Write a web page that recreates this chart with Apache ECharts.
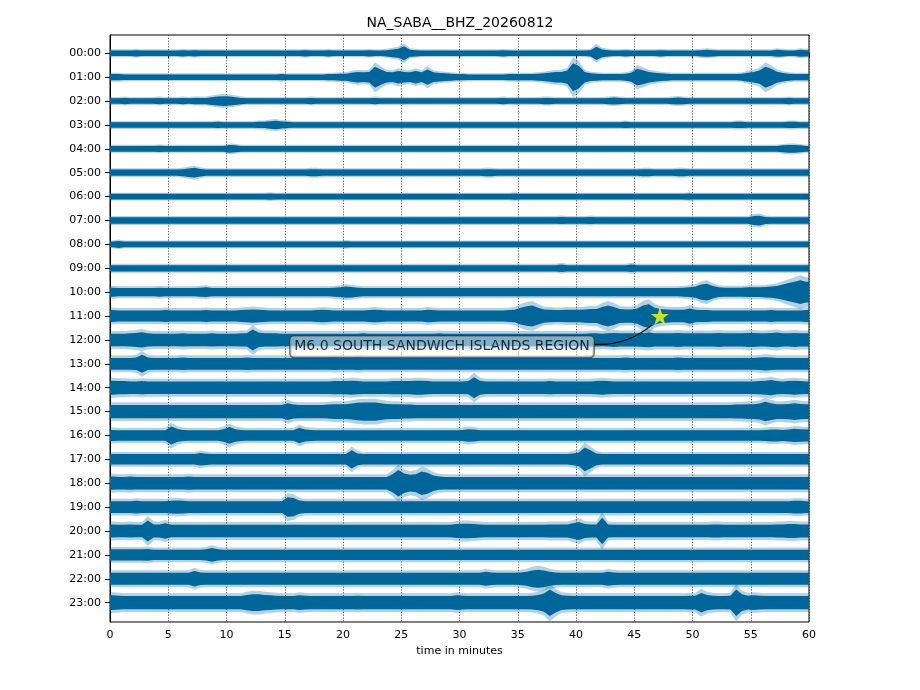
<!DOCTYPE html>
<html><head><meta charset="utf-8">
<script src="https://cdn.jsdelivr.net/npm/echarts@6/dist/echarts.min.js"></script>
<style>html,body{margin:0;padding:0;background:#fff}#c{width:920px;height:690px}</style>
</head><body><div id="c"></div>
<script>
const chartTitle = 'NA_SABA__BHZ_20260812';
const axisName = 'time in minutes';
const hourLabels = ['00:00','01:00','02:00','03:00','04:00','05:00','06:00','07:00','08:00','09:00','10:00','11:00',
  '12:00','13:00','14:00','15:00','16:00','17:00','18:00','19:00','20:00','21:00','22:00','23:00'];
const minuteTicks = [0,5,10,15,20,25,30,35,40,45,50,55,60];
const binMinutes = 0.5; // each envelope value covers half a minute

// peak amplitude envelopes per hour row, 120 half-minute bins each
const h00 = [8,8,8,8,9,8,8,8,8,8, 8,8,9,8,9,8,8,8,8,8, 8,8,8,8,8,8,8,8,8,8, 8,8,8,9,8,8,8,9,8,8, 8,8,8,8,9,8,8,9,11,13, 20,10,9,8,8,8,8,8,8,8, 8,8,8,8,8,8,8,9,8,8, 8,8,8,8,8,8,8,8,8,8, 8,8,9,19,11,9,8,8,9,8, 8,8,8,8,9,8,8,8,8,8, 8,9,10,9,8,8,8,8,8,8, 8,8,8,8,10,9,8,8,10,9];
const h01 = [9,9,8,8,8,8,8,8,8,8, 8,8,8,8,8,8,8,8,8,8, 8,8,8,8,8,8,8,8,8,9, 8,8,8,8,8,8,8,9,9,10, 10,13,15,14,15,30,22,15,14,18, 15,14,18,14,22,14,12,11,10,9, 9,8,8,8,8,8,8,8,9,9, 9,9,9,10,11,13,15,15,19,40, 32,15,11,10,9,9,9,9,10,13, 24,20,15,13,11,10,9,9,9,9, 9,9,9,9,9,9,9,9,10,13, 15,19,30,24,16,12,10,9,9,9];
const h02 = [8,8,9,8,8,8,8,8,9,8, 8,8,9,8,9,9,9,11,13,14, 13,11,9,8,8,8,8,8,8,8, 8,8,8,8,9,8,8,8,8,8, 8,8,8,8,8,9,8,8,8,8, 8,8,8,8,8,8,8,8,8,8, 8,8,8,8,8,8,8,9,8,8, 8,8,8,8,9,9,8,8,8,8, 8,8,8,8,8,9,10,9,8,8, 8,8,8,8,8,8,9,10,9,8, 8,8,8,8,8,8,8,8,8,8, 8,8,8,8,8,8,9,8,8,8];
const h03 = [8,8,8,8,8,8,8,8,8,8, 8,8,8,8,8,8,8,8,9,8, 8,8,8,8,8,9,9,11,12,10, 9,8,8,8,8,8,8,8,8,8, 8,8,8,8,8,8,8,8,8,8, 8,8,8,8,8,8,8,8,8,8, 8,8,8,8,8,8,8,8,8,8, 8,8,8,8,8,8,8,8,8,8, 8,8,8,8,8,8,8,8,9,8, 8,8,8,8,8,8,8,8,8,8, 8,8,8,8,8,8,8,9,9,8, 8,8,8,8,8,8,9,9,8,8];
const h04 = [8,8,8,8,8,8,8,8,9,8, 8,8,8,8,8,8,8,8,8,8, 11,10,8,8,8,8,8,8,8,8, 8,8,8,8,8,8,8,8,8,8, 8,8,8,8,8,8,8,8,8,8, 8,8,8,8,8,8,8,8,8,8, 8,8,8,8,8,8,8,8,8,8, 8,8,8,8,8,8,8,8,8,8, 8,8,8,8,8,8,8,8,8,8, 8,8,8,8,8,8,8,8,8,8, 8,8,8,8,8,8,8,8,8,8, 8,8,8,8,8,10,11,11,10,8];
const h05 = [9,9,9,9,9,9,9,9,9,9, 9,9,10,12,14,11,9,9,9,9, 9,9,9,9,9,9,9,9,9,9, 9,9,9,9,10,10,9,9,9,9, 9,9,9,9,9,9,9,9,9,9, 9,9,9,9,9,9,9,9,9,9, 9,9,9,9,10,10,9,9,9,9, 9,9,9,9,9,9,9,9,9,9, 9,9,9,9,9,9,9,9,9,9, 9,10,10,9,9,9,9,10,10,9, 9,9,9,9,9,9,9,9,9,9, 9,9,9,9,9,9,9,9,9,9];
const h06 = [8,8,8,8,8,8,8,8,8,8, 8,8,8,8,8,8,8,8,8,8, 8,8,8,8,8,8,8,9,8,8, 8,8,8,8,8,8,8,8,8,8, 8,8,8,8,8,8,8,8,8,8, 8,8,8,8,8,8,8,8,8,8, 8,8,8,8,8,8,8,8,8,9, 8,8,8,8,8,8,8,8,8,8, 8,8,8,8,8,8,8,8,8,8, 8,8,8,8,8,8,8,8,8,9, 8,8,8,8,8,8,8,8,8,8, 8,8,8,8,8,8,8,8,8,8];
const h07 = [9,9,9,9,9,9,9,9,9,9, 9,9,9,9,9,9,9,9,9,9, 9,9,9,9,9,9,9,9,9,9, 9,9,9,9,9,9,9,9,9,9, 9,9,9,9,9,9,9,9,9,9, 9,9,9,9,9,9,9,9,9,9, 9,9,9,9,9,9,9,9,9,9, 9,9,9,9,9,9,9,10,9,9, 9,9,10,9,9,9,9,9,9,9, 9,9,9,9,9,9,9,9,9,9, 9,9,9,9,9,9,9,9,9,9, 13,14,10,9,9,9,9,9,9,9];
const h08 = [8,10,8,8,8,8,8,8,8,8, 8,8,8,8,8,8,8,8,8,8, 8,8,8,8,8,8,8,8,8,8, 8,8,8,8,8,8,8,8,8,8, 9,8,8,8,8,8,8,8,8,8, 8,8,8,8,8,8,8,8,8,8, 8,8,8,8,8,8,8,8,8,8, 8,8,8,8,8,8,8,8,8,8, 8,8,8,8,8,8,8,8,8,8, 8,8,8,8,8,8,8,8,8,8, 8,8,8,8,8,8,8,8,8,8, 8,8,8,8,8,8,8,8,8,8];
const h09 = [9,9,9,9,9,9,9,9,9,9, 9,9,9,9,9,9,9,9,9,9, 9,9,9,9,9,9,9,9,9,9, 9,9,9,9,9,9,9,9,9,9, 9,9,9,9,9,9,9,9,9,9, 9,9,9,9,9,9,9,9,9,9, 9,9,9,9,9,9,9,9,9,9, 9,9,9,9,9,9,9,11,9,9, 9,9,9,9,9,9,9,9,9,11, 9,9,9,9,9,9,9,9,9,9, 9,9,9,9,9,9,9,9,9,9, 9,9,9,9,9,9,9,9,9,9];
const h10 = [13,12,12,12,12,12,12,12,13,12, 12,12,12,12,12,13,14,12,12,12, 12,12,12,12,12,12,12,12,12,12, 12,12,12,12,12,12,12,12,13,14, 16,15,13,12,12,12,12,12,12,12, 12,12,12,12,12,12,12,12,12,12, 12,12,12,12,12,12,12,12,12,12, 12,12,12,12,12,12,12,12,12,12, 12,12,12,12,12,12,12,12,12,12, 12,12,12,12,12,12,12,12,13,14, 16,22,24,18,14,13,13,13,13,14, 14,14,15,16,18,22,26,30,34,30];
const h11 = [17,16,16,16,16,16,16,16,16,17, 16,16,16,16,16,16,17,16,16,16, 16,16,17,18,19,18,17,16,16,16, 16,16,16,16,16,17,18,17,16,16, 16,16,16,16,17,18,17,16,16,16, 16,16,16,16,18,17,16,16,16,16, 16,16,16,16,16,16,16,16,17,18, 24,28,30,24,19,18,17,17,18,18, 18,19,20,20,26,30,26,20,19,19, 22,30,34,24,20,19,18,18,18,22, 18,17,17,16,16,16,16,16,16,16, 16,16,16,17,16,16,16,16,16,17];
const h12 = [18,18,18,19,20,22,19,18,18,18, 18,18,19,18,18,18,18,19,18,18, 18,18,19,19,30,21,19,19,19,18, 18,18,18,18,18,18,18,18,18,18, 18,18,18,19,18,18,18,18,18,18, 18,18,18,18,18,18,19,18,18,18, 18,18,18,18,18,18,18,18,18,18, 18,18,18,18,18,18,18,18,18,18, 18,18,19,19,18,19,20,19,19,19, 19,20,21,19,19,19,19,20,19,19, 19,19,19,19,20,19,19,19,19,20, 20,19,19,20,21,19,19,20,19,19];
const h13 = [17,17,17,17,18,26,18,17,17,17, 17,17,18,17,17,17,17,17,17,17, 17,17,17,18,17,17,17,17,17,17, 17,17,17,17,17,17,17,17,18,17, 17,17,18,17,17,17,17,17,17,17, 17,17,17,17,17,17,17,17,17,17, 17,17,17,17,17,17,17,17,17,17, 17,17,17,17,17,17,17,17,17,17, 17,17,17,17,17,17,17,17,18,17, 17,17,17,17,17,17,17,18,17,17, 17,17,17,17,17,17,17,17,17,17, 17,18,19,18,17,17,17,17,17,17];
const h14 = [20,19,19,18,18,19,18,18,18,18, 18,18,18,18,18,18,18,18,18,18, 18,18,18,18,18,18,18,18,18,18, 18,18,18,18,18,18,18,18,19,19, 19,20,19,18,18,18,18,18,19,19, 19,19,20,20,19,18,18,18,18,18, 18,19,30,20,18,18,18,18,18,18, 18,18,18,18,18,19,18,18,18,18, 18,18,18,19,20,19,18,18,18,18, 18,18,18,18,18,18,18,18,18,18, 18,18,18,18,18,18,18,18,18,18, 18,19,20,22,19,18,19,20,19,18];
const h15 = [19,19,19,19,19,19,19,19,19,19, 19,19,19,19,19,19,19,19,19,19, 19,19,19,19,19,19,19,19,19,19, 24,20,19,19,19,19,19,20,21,21, 21,23,25,26,26,26,24,22,21,21, 20,20,19,19,19,19,19,19,19,19, 19,19,19,19,19,19,19,19,19,19, 19,19,19,19,19,19,19,19,19,19, 19,19,19,19,19,19,19,19,19,19, 19,19,19,19,19,19,19,19,19,19, 19,19,19,19,19,19,19,20,20,21, 21,23,28,24,21,21,22,24,22,21];
const h16 = [16,15,15,15,15,15,15,15,15,15, 26,19,16,15,15,15,15,15,15,18, 24,18,16,15,15,15,15,15,15,15, 15,15,22,17,16,15,15,15,15,15, 15,15,15,15,15,15,15,15,15,15, 15,15,15,15,15,15,15,15,15,15, 16,18,17,15,15,15,15,15,15,15, 15,15,15,15,15,15,15,15,15,15, 15,15,15,15,15,15,15,15,15,15, 15,15,15,15,15,15,15,15,15,15, 15,15,15,15,15,15,15,15,15,15, 15,15,16,17,17,16,17,19,18,17];
const h17 = [15,15,15,15,15,15,15,15,15,15, 15,15,15,15,15,18,16,15,15,15, 15,15,15,15,15,15,15,15,15,15, 15,15,15,15,15,15,15,15,15,15, 15,26,17,15,15,15,15,15,15,15, 15,15,15,15,15,15,15,15,15,15, 15,15,15,15,15,15,15,15,15,15, 15,15,15,15,15,15,15,15,15,17, 20,34,26,17,15,15,15,15,15,15, 15,15,15,15,15,15,15,15,15,15, 15,15,15,15,15,15,15,15,15,15, 15,15,15,15,15,15,15,15,15,15];
const h18 = [19,18,18,19,18,18,18,18,18,18, 18,18,18,19,18,18,18,18,18,18, 18,18,18,18,18,18,18,18,18,18, 18,18,18,18,18,18,18,18,18,18, 18,18,18,18,18,18,18,18,26,38, 28,24,26,34,30,22,19,18,18,18, 18,18,18,18,18,18,18,18,18,18, 18,18,18,18,18,18,18,18,18,18, 18,18,18,18,18,18,18,18,18,18, 18,18,18,18,18,18,18,18,18,18, 18,18,18,18,18,18,18,18,18,18, 18,18,18,18,18,18,18,18,18,18];
const h19 = [17,17,17,17,18,17,17,17,17,17, 18,19,18,17,17,17,17,17,17,17, 17,17,17,17,17,17,17,17,17,17, 28,26,19,17,17,17,17,17,17,17, 17,17,17,17,17,17,17,17,17,17, 17,17,17,17,17,17,17,17,17,17, 17,17,17,17,17,17,17,17,17,17, 17,17,17,17,17,17,17,17,17,17, 17,17,17,17,17,17,17,17,17,17, 17,17,17,17,17,17,17,17,17,17, 17,17,17,17,17,17,17,17,17,17, 17,17,17,17,17,17,17,18,18,17];
const h20 = [19,18,18,19,18,18,30,19,19,22, 18,18,18,18,18,18,18,18,18,18, 18,18,18,18,18,18,18,18,18,18, 18,18,18,18,18,18,18,18,18,18, 18,18,18,18,18,18,18,18,18,18, 18,18,18,18,18,18,18,18,18,20, 21,21,20,19,18,18,18,18,18,18, 18,18,18,18,18,19,19,19,19,22, 26,20,19,19,38,19,18,18,18,18, 18,18,18,18,18,18,18,18,18,18, 18,18,18,19,19,18,18,18,18,18, 18,18,18,18,19,19,20,20,19,19];
const h21 = [16,16,16,16,16,16,17,15,15,15, 15,15,15,15,15,15,16,20,16,15, 15,15,15,15,15,15,15,15,15,15, 15,15,15,15,15,15,15,15,15,15, 15,15,15,15,15,15,15,15,15,15, 15,15,15,15,15,15,15,15,15,15, 15,15,15,15,15,15,15,15,15,15, 15,15,15,15,15,15,15,15,15,15, 15,15,15,15,15,15,15,15,15,15, 15,15,15,15,15,15,15,15,15,15, 15,15,15,15,15,15,15,15,15,15, 15,15,15,15,15,15,15,15,15,15];
const h22 = [17,17,17,17,17,17,17,17,17,17, 17,17,17,17,22,18,17,17,17,17, 17,17,17,17,17,17,17,17,17,17, 17,17,17,17,17,17,17,17,17,17, 17,17,17,17,17,17,17,17,17,17, 17,17,17,17,17,17,17,17,17,17, 17,17,17,17,20,18,17,17,17,17, 18,20,24,26,24,20,18,17,17,17, 17,17,17,17,17,20,18,17,17,17, 17,17,17,17,17,17,17,17,17,17, 17,17,17,17,17,17,17,17,17,17, 17,17,17,17,17,17,17,17,17,17];
const h23 = [21,20,19,19,19,19,19,19,19,19, 19,19,19,19,19,19,19,19,19,19, 19,19,19,22,24,24,22,21,20,19, 19,19,21,20,19,19,19,19,19,19, 19,19,20,19,19,19,19,19,19,19, 19,19,19,19,19,19,19,19,19,21, 20,19,19,19,19,19,19,19,19,19, 19,19,20,22,26,38,28,21,20,19, 19,19,19,19,19,19,19,19,19,19, 19,19,19,19,19,19,19,19,19,20, 20,28,22,20,19,19,20,38,24,20, 21,20,19,19,19,19,19,19,19,19];
const envelopes = [h00,h01,h02,h03,h04,h05,h06,h07,h08,h09,h10,h11,h12,h13,h14,h15,h16,h17,h18,h19,h20,h21,h22,h23];

// event annotation
const eventLabel = 'M6.0 SOUTH SANDWICH ISLANDS REGION';
const eventMinute = 47.2;
const eventHour = 11;
const labelAt = [28.5, 12.29];
const arrowFrom = [41.5, 12.18];
const arrowTo = [46.5, 11.38];

// rendering constants (style)
const COUNTS_PER_ROW = 48;
const CORE_FACTOR = 0.7;
const TRACE = '#00669a';
const FONT = 'DejaVu Sans';

function band(api, row, amps, factor) {
  const n = amps.length;
  const pts = [[0, amps[0]]];
  for (let k = 0; k < n; k++) pts.push([(k + 0.5) * binMinutes, amps[k]]);
  pts.push([n * binMinutes, amps[n - 1]]);
  const top = pts.map(p => api.coord([p[0], row - p[1] * factor / COUNTS_PER_ROW]));
  const bot = pts.slice().reverse().map(p => api.coord([p[0], row + p[1] * factor / COUNTS_PER_ROW]));
  return top.concat(bot);
}

const hourIdx = hourLabels.map((_, i) => i);
const chart = echarts.init(document.getElementById('c'), null, {renderer: 'canvas'});
chart.setOption({
  animation: false,
  backgroundColor: '#fff',
  title: {text: chartTitle, left: 'center', top: 11,
    textStyle: {fontSize: 14, fontWeight: 'normal', color: '#000', fontFamily: FONT}},
  grid: {left: 110, right: 111, top: 35, bottom: 68, show: true, borderColor: '#000', borderWidth: 1},
  xAxis: {type: 'value', min: minuteTicks[0], max: minuteTicks[minuteTicks.length - 1], interval: 5,
    name: axisName, nameLocation: 'middle', nameGap: 24,
    nameTextStyle: {fontSize: 11, color: '#000', fontFamily: FONT},
    axisLine: {show: true, lineStyle: {color: '#000', width: 1}},
    axisTick: {show: true, length: 5, lineStyle: {color: '#000'}},
    axisLabel: {fontSize: 11, color: '#000', fontFamily: FONT, margin: 8},
    splitLine: {show: true, lineStyle: {color: '#333', width: 0.8, type: [1.2, 1.6]}}},
  yAxis: {type: 'value', inverse: true, min: -0.767, max: 23.81,
    axisLine: {show: true, lineStyle: {color: '#000', width: 1}},
    axisTick: {show: true, length: 5, customValues: hourIdx, lineStyle: {color: '#000'}},
    axisLabel: {customValues: hourIdx, formatter: v => hourLabels[Math.round(v)] || '',
      fontSize: 11, color: '#000', fontFamily: FONT, margin: 9},
    splitLine: {show: false}},
  series: [
    {type: 'custom', clip: true, z: 2,
      data: hourIdx.map(i => [30, i]), encode: {x: 0, y: 1},
      renderItem: (params, api) => {
        const row = api.value(1);
        const amps = envelopes[row];
        return {type: 'group', children: [
          {type: 'polygon', shape: {points: band(api, row, amps, 1)}, style: {fill: TRACE, opacity: 0.3}},
          {type: 'polygon', shape: {points: band(api, row, amps, CORE_FACTOR)}, style: {fill: TRACE}}
        ]};
      }},
    {type: 'lines', coordinateSystem: 'cartesian2d', z: 8, silent: true,
      data: [{coords: [arrowFrom, arrowTo]}],
      lineStyle: {color: '#000', width: 1.2, curveness: -0.2, opacity: 1}},
    {type: 'scatter', z: 9, silent: true, data: [labelAt], symbolSize: 1,
      itemStyle: {color: 'rgba(0,0,0,0)'},
      label: {show: true, position: 'inside', formatter: eventLabel, fontSize: 14, fontFamily: FONT,
        color: '#000', backgroundColor: 'rgba(255,255,255,0.62)', borderColor: '#333', borderWidth: 1,
        borderRadius: 4, padding: [3, 4, 2, 4], lineHeight: 16}},
    {type: 'scatter', z: 10, silent: true, data: [[eventMinute, eventHour]],
      symbol: 'path://M50,0 L61.2,34.5 L97.6,34.5 L68.2,55.9 L79.4,90.5 L50,69.1 L20.6,90.5 L31.8,55.9 L2.4,34.5 L38.8,34.5 Z',
      symbolSize: 18, itemStyle: {color: '#ffff00'}}
  ]
});
</script></body></html>
